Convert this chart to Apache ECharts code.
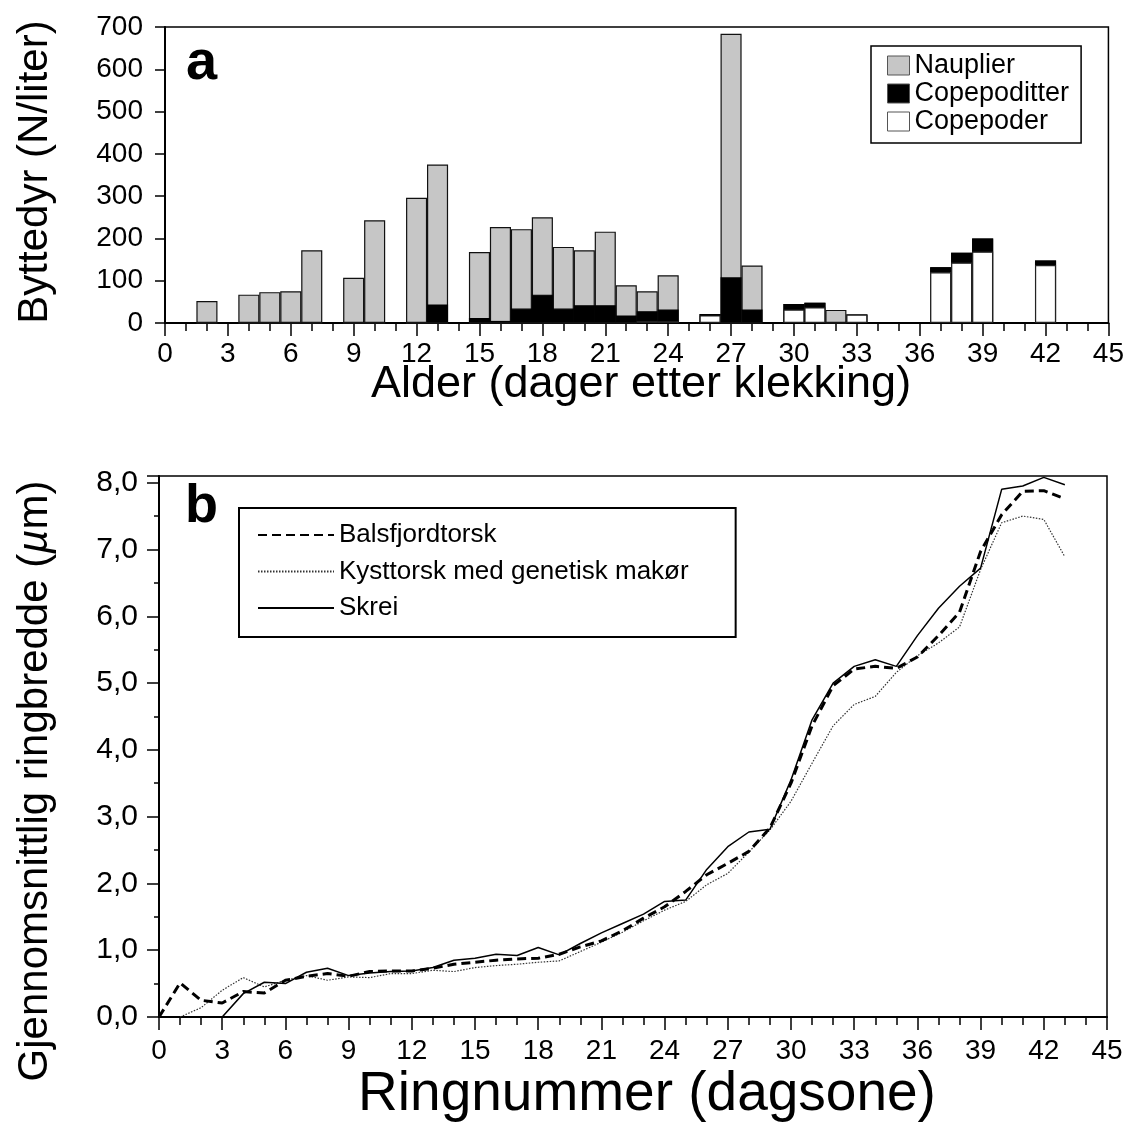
<!DOCTYPE html>
<html>
<head>
<meta charset="utf-8">
<script src="https://cdn.jsdelivr.net/npm/echarts@6/dist/echarts.min.js"></script>
<style>
html,body{margin:0;padding:0;background:#fff;}
#c{width:1127px;height:1126px;}
</style>
</head>
<body>
<div id="c"></div>
<script>
// ---- Panel a data ----
const days = [2,4,5,6,7,9,10,12,13,15,16,17,18,19,20,21,22,23,24,26,27,28,30,31,32,33,37,38,39,42];
const nauplier     = [52,67,73,75,172,107,243,296,331,156,222,188,183,146,130,174,71,47,81,0,576,104,0,0,31,0,0,0,0,0];
const copepoditter = [0,0,0,0,0,0,0,0,44,12,5,34,67,34,42,42,18,23,28,3,108,32,13,11,0,0,12,23,31,11];
const copepoder    = [0,0,0,0,0,0,0,0,0,0,0,0,0,0,0,0,0,5,4,18,0,0,32,37,0,20,120,143,169,137];
const xTicksA = [0,3,6,9,12,15,18,21,24,27,30,33,36,39,42,45];
const yTicksA = [0,100,200,300,400,500,600,700];

// ---- Panel b data ----
const rings = [0,1,2,3,4,5,6,7,8,9,10,11,12,13,14,15,16,17,18,19,20,21,22,23,24,25,26,27,28,29,30,31,32,33,34,35,36,37,38,39,40,41,42,43];
const balsfjord = [0,0.51,0.25,0.21,0.38,0.36,0.55,0.61,0.65,0.61,0.68,0.69,0.69,0.73,0.79,0.82,0.85,0.87,0.88,0.94,1.05,1.14,1.29,1.48,1.65,1.88,2.13,2.30,2.48,2.83,3.50,4.36,4.96,5.21,5.25,5.22,5.39,5.71,6.06,6.97,7.52,7.87,7.88,7.76];
const kysttorsk = [null,0,0.14,0.40,0.59,0.45,0.55,0.62,0.55,0.60,0.59,0.65,0.65,0.70,0.68,0.74,0.77,0.79,0.82,0.84,0.98,1.12,1.27,1.44,1.60,1.73,1.98,2.15,2.47,2.80,3.23,3.80,4.36,4.68,4.80,5.16,5.41,5.60,5.84,6.70,7.40,7.50,7.45,6.89];
const skrei = [null,null,null,0,0.35,0.52,0.50,0.67,0.73,0.62,0.66,0.68,0.69,0.74,0.85,0.88,0.94,0.92,1.04,0.93,1.10,1.26,1.40,1.54,1.73,1.75,2.21,2.55,2.77,2.81,3.55,4.45,5.00,5.25,5.35,5.25,5.71,6.12,6.45,6.72,7.90,7.95,8.08,7.97];
const yTicksB = [0,1,2,3,4,5,6,7,8];

const FONT = 'Liberation Sans, Arial, sans-serif';
const chart = echarts.init(document.getElementById('c'), null, {renderer:'canvas'});

const gridA = {left:165, right:13, top:27, bottom:803};
const gridB = {left:159, right:20, top:476, bottom:109};
const barW = (1127 - gridA.left - gridA.right) / 45;

function pairs(xs, ys){ const out=[]; for(let i=0;i<xs.length;i++){ if(ys[i]!==null) out.push([xs[i], ys[i]]); } return out; }
// stacked tops (copepoder at bottom, copepoditter in middle, nauplier on top)
const topCopepoder = days.map((d,i) => [d, copepoder[i]]);
const topCopepoditter = days.map((d,i) => [d, copepoder[i] + copepoditter[i]]);
const topNauplier = days.map((d,i) => [d, copepoder[i] + copepoditter[i] + nauplier[i]]);

const xAxisCommon = {
  type:'value', min:0, max:45, interval:3,
  axisLine:{show:true, onZero:false, lineStyle:{color:'#000', width:2}},
  axisTick:{show:true, inside:false, length:13, lineStyle:{color:'#000', width:1.5}},
  minorTick:{show:true, splitNumber:3, length:8, lineStyle:{color:'#000', width:1.5}},
  splitLine:{show:false}, minorSplitLine:{show:false},
  axisLabel:{color:'#000', fontFamily:FONT, fontSize:28}
};

const option = {
  animation:false,
  backgroundColor:'#fff',
  textStyle:{fontFamily:FONT, color:'#000'},
  grid:[
    Object.assign({show:true, borderColor:'#000', borderWidth:1.5, backgroundColor:'transparent'}, gridA),
    Object.assign({show:true, borderColor:'#000', borderWidth:1.5, backgroundColor:'transparent'}, gridB)
  ],
  xAxis:[
    Object.assign({}, xAxisCommon, {gridIndex:0, axisLabel:Object.assign({}, xAxisCommon.axisLabel, {margin:17,
      formatter:v => xTicksA.indexOf(v) >= 0 ? String(v) : ''})}),
    Object.assign({}, xAxisCommon, {gridIndex:1, axisLabel:Object.assign({}, xAxisCommon.axisLabel, {margin:20,
      formatter:v => xTicksA.indexOf(v) >= 0 ? String(v) : ''})})
  ],
  yAxis:[
    {gridIndex:0, type:'value', min:0, max:700, interval:100,
     axisLine:{show:true, lineStyle:{color:'#000', width:2}},
     axisTick:{show:true, inside:false, length:10, lineStyle:{color:'#000', width:1.5}},
     splitLine:{show:false},
     axisLabel:{color:'#000', fontFamily:FONT, fontSize:28, margin:22,
       formatter:v => yTicksA.indexOf(v) >= 0 ? String(v) : ''}},
    {gridIndex:1, type:'value', min:0, max:8.1, interval:1,
     axisLine:{show:true, lineStyle:{color:'#000', width:2}},
     axisTick:{show:true, inside:false, length:12, lineStyle:{color:'#000', width:1.5}},
     minorTick:{show:true, splitNumber:2, length:5, lineStyle:{color:'#000', width:1.5}},
     splitLine:{show:false}, minorSplitLine:{show:false},
     axisLabel:{color:'#000', fontFamily:FONT, fontSize:30, margin:21,
       formatter:v => yTicksB.indexOf(v) >= 0 ? v.toFixed(1).replace('.', ',') : ''}}
  ],
  legend:[
    {data:['Nauplier','Copepoditter','Copepoder'], orient:'vertical', left:871, top:46,
     icon:'rect', itemWidth:22, itemHeight:19, itemGap:1, itemTextGap:22,
     padding:[6,12,8,16], borderColor:'#000', borderWidth:1.5, backgroundColor:'#fff',
     itemStyle:{borderWidth:1, borderColor:'#555'},
     textStyle:{fontFamily:FONT, fontSize:27, lineHeight:26, color:'#000'},
     selectedMode:false},
    {data:['Balsfjordtorsk','Kysttorsk med genetisk makør','Skrei'], orient:'vertical', left:239, top:508,
     itemWidth:76, itemHeight:14, itemGap:10.5, itemTextGap:12,
     padding:[14,47,16,18], borderColor:'#000', borderWidth:2, backgroundColor:'#fff',
     itemStyle:{opacity:0},
     textStyle:{fontFamily:FONT, fontSize:26, lineHeight:26, color:'#000'},
     selectedMode:false}
  ],
  series:[
    {name:'Nauplier', type:'bar', xAxisIndex:0, yAxisIndex:0, barWidth:barW, barGap:'-100%',
     data:topNauplier, itemStyle:{color:'#c6c6c6', borderColor:'#111', borderWidth:1.2}, z:2},
    {name:'Copepoditter', type:'bar', xAxisIndex:0, yAxisIndex:0, barWidth:barW, barGap:'-100%',
     data:topCopepoditter, itemStyle:{color:'#000000', borderColor:'#000', borderWidth:1.2}, z:3},
    {name:'Copepoder', type:'bar', xAxisIndex:0, yAxisIndex:0, barWidth:barW, barGap:'-100%',
     data:topCopepoder, itemStyle:{color:'#ffffff', borderColor:'#222', borderWidth:1.2}, z:4},
    {name:'Balsfjordtorsk', type:'line', xAxisIndex:1, yAxisIndex:1, symbol:'none',
     data:pairs(rings, balsfjord), lineStyle:{color:'#000', width:3, type:[9,5]}, itemStyle:{color:'#000'}, z:5},
    {name:'Kysttorsk med genetisk makør', type:'line', xAxisIndex:1, yAxisIndex:1, symbol:'none',
     data:pairs(rings, kysttorsk), lineStyle:{color:'#333', width:1.2, type:[1.5,1.5]}, itemStyle:{color:'#333'}, z:3},
    {name:'Skrei', type:'line', xAxisIndex:1, yAxisIndex:1, symbol:'none',
     data:pairs(rings, skrei), lineStyle:{color:'#000', width:1.5, type:'solid'}, itemStyle:{color:'#000'}, z:4}
  ],
  graphic:[
    {type:'text', left:186, top:36, style:{text:'a', font:'bold 56px ' + FONT, fill:'#000'}},
    {type:'text', left:185, top:480, style:{text:'b', font:'bold 54px ' + FONT, fill:'#000'}},
    {type:'text', x:35, y:172, rotation:Math.PI/2,
     style:{text:'Byttedyr (N/liter)', font:'42px ' + FONT, fill:'#000', align:'center', verticalAlign:'middle'}},
    {type:'text', x:641, y:385,
     style:{text:'Alder (dager etter klekking)', font:'45px ' + FONT, fill:'#000', align:'center', verticalAlign:'middle'}},
    {type:'text', x:35, y:781, rotation:Math.PI/2,
     style:{text:'Gjennomsnittlig ringbredde ({i|µ}m)', font:'42px ' + FONT, fill:'#000', align:'center', verticalAlign:'middle',
       rich:{i:{font:'italic 42px ' + FONT, fill:'#000'}}}},
    {type:'text', x:647, y:1095,
     style:{text:'Ringnummer (dagsone)', font:'55px ' + FONT, fill:'#000', align:'center', verticalAlign:'middle'}}
  ]
};
chart.setOption(option);
</script>
</body>
</html>
